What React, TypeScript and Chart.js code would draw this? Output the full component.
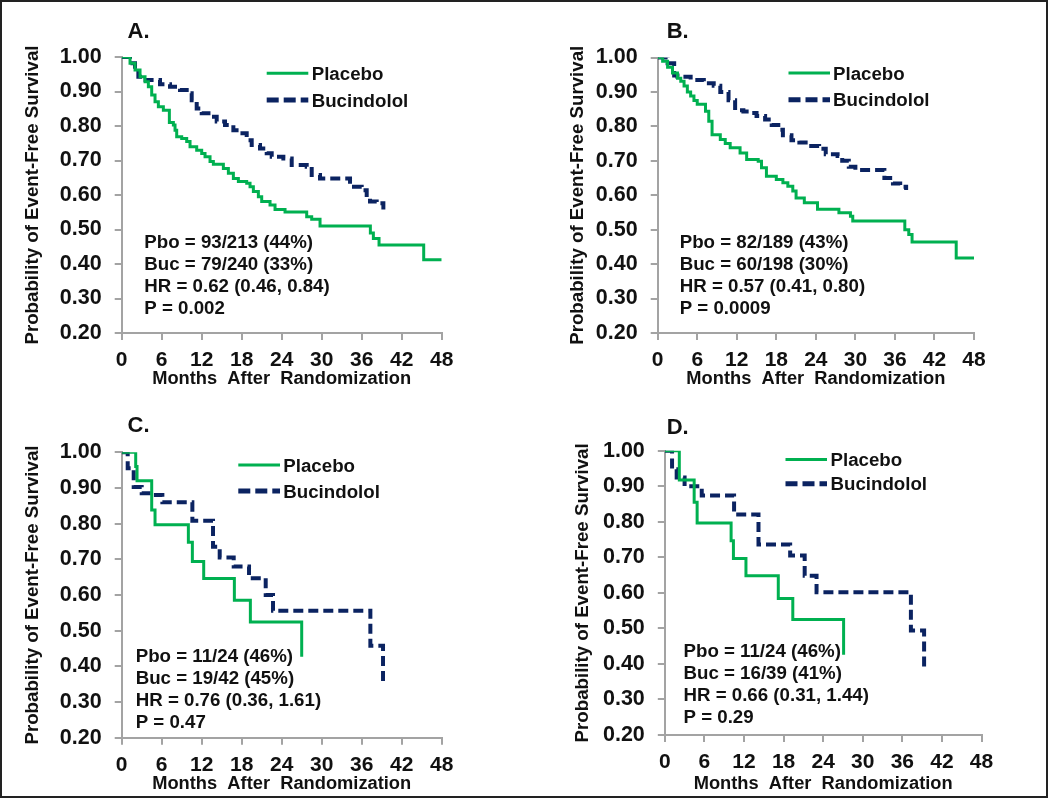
import React, { useEffect, useRef } from 'react';
import { Chart, registerables } from 'chart.js';

Chart.register(...registerables);

const FONT = '"Liberation Sans", Arial, Helvetica, sans-serif';
const GREEN = '#00B050';
const NAVY = '#0B2361';
const AXIS = '#a3a3a3';
const TEXT = '#111111';

// Tick values
const X_TICKS = [0, 6, 12, 18, 24, 30, 36, 42, 48];
const Y_TICKS = [0.2, 0.3, 0.4, 0.5, 0.6, 0.7, 0.8, 0.9, 1.0];
const SERIES_NAMES = ['Placebo', 'Bucindolol'];
const X_TITLE = 'Months  After  Randomization';
const Y_TITLE = 'Probability of Event-Free Survival';

// Panel A
const monthsA_pbo = [0, 1.25, 2.0, 2.75, 3.5, 4.0, 4.5, 5.0, 5.5, 6.25, 7.15, 7.75, 8.0, 8.25, 9.0, 9.75, 10.25, 11.25, 12.0, 12.5, 13.25, 13.75, 15.25, 16.0, 16.75, 17.5, 18.75, 19.25, 19.75, 20.5, 21.0, 22.25, 23.0, 24.5, 27.75, 28.5, 29.75, 37.3, 37.75, 38.6, 45.3, 48];
const survA_pbo = [1.0, 0.982, 0.962, 0.943, 0.928, 0.914, 0.89, 0.87, 0.856, 0.846, 0.81, 0.803, 0.788, 0.769, 0.764, 0.755, 0.74, 0.73, 0.72, 0.711, 0.697, 0.689, 0.677, 0.663, 0.648, 0.639, 0.634, 0.624, 0.61, 0.595, 0.581, 0.571, 0.558, 0.551, 0.537, 0.53, 0.51, 0.49, 0.474, 0.455, 0.412, 0.412];
const monthsA_buc = [0, 1.25, 2.0, 2.5, 3.25, 5.75, 7.25, 8.75, 9.75, 10.5, 11.25, 12.0, 13.5, 14.25, 15.5, 16.75, 17.75, 18.75, 19.5, 20.75, 21.75, 22.5, 24.25, 25.5, 27.75, 28.5, 29.75, 34.25, 36.0, 36.75, 37.25, 38.25, 39.25];
const survA_buc = [1.0, 0.982, 0.962, 0.943, 0.933, 0.921, 0.914, 0.904, 0.895, 0.875, 0.851, 0.837, 0.827, 0.813, 0.803, 0.788, 0.779, 0.759, 0.745, 0.735, 0.721, 0.711, 0.706, 0.687, 0.682, 0.658, 0.648, 0.624, 0.614, 0.6, 0.581, 0.576, 0.558];
const statsA = ['Pbo = 93/213 (44%)', 'Buc = 79/240 (33%)', 'HR = 0.62 (0.46, 0.84)', 'P = 0.002'];

// Panel B
const monthsB_pbo = [0, 0.75, 1.5, 2.25, 3.0, 3.5, 4.0, 4.5, 5.0, 5.5, 6.0, 7.25, 7.75, 8.25, 9.5, 10.25, 11.0, 12.5, 13.5, 15.25, 15.75, 16.5, 18.0, 19.0, 19.75, 20.5, 21.0, 22.25, 24.25, 27.5, 29.25, 29.6, 37.5, 38.1, 38.6, 45.3, 48];
const survB_pbo = [1.0, 0.989, 0.972, 0.955, 0.94, 0.931, 0.917, 0.9, 0.888, 0.875, 0.864, 0.844, 0.815, 0.776, 0.762, 0.75, 0.738, 0.723, 0.704, 0.699, 0.68, 0.655, 0.646, 0.636, 0.626, 0.612, 0.592, 0.578, 0.559, 0.549, 0.539, 0.525, 0.5, 0.486, 0.464, 0.418, 0.418];
const monthsB_buc = [0, 1.5, 2.5, 3.0, 5.0, 7.0, 8.5, 9.5, 10.75, 11.75, 13.0, 14.0, 15.0, 16.3, 17.3, 18.3, 19.0, 20.3, 21.5, 23.3, 24.5, 25.5, 27.3, 28.0, 29.0, 30.0, 34.4, 35.7, 36.8, 37.7];
const survB_buc = [1.0, 0.983, 0.948, 0.944, 0.935, 0.925, 0.918, 0.9, 0.876, 0.847, 0.843, 0.839, 0.83, 0.82, 0.804, 0.79, 0.774, 0.76, 0.753, 0.743, 0.735, 0.719, 0.714, 0.7, 0.683, 0.673, 0.65, 0.634, 0.625, 0.615];
const statsB = ['Pbo = 82/189 (43%)', 'Buc = 60/198 (30%)', 'HR = 0.57 (0.41, 0.80)', 'P = 0.0009'];

// Panel C
const monthsC_pbo = [0, 2.1, 2.3, 4.5, 5.0, 10.0, 10.6, 12.3, 16.9, 19.3, 27.0];
const survC_pbo = [1.0, 0.96, 0.92, 0.838, 0.797, 0.748, 0.694, 0.646, 0.585, 0.524, 0.427];
const monthsC_buc = [0, 0.9, 1.8, 3.0, 4.7, 6.1, 10.6, 13.7, 14.7, 16.8, 19.1, 21.6, 22.7, 37.3, 39.2];
const survC_buc = [1.0, 0.955, 0.903, 0.885, 0.88, 0.86, 0.808, 0.735, 0.705, 0.68, 0.647, 0.6, 0.556, 0.458, 0.352];
const statsC = ['Pbo = 11/24 (46%)', 'Buc = 19/42 (45%)', 'HR = 0.76 (0.36, 1.61)', 'P = 0.47'];

// Panel D
const monthsD_pbo = [0, 2.2, 4.45, 4.9, 10.05, 10.4, 12.3, 17.2, 19.4, 27.1];
const survD_pbo = [1.0, 0.918, 0.855, 0.797, 0.747, 0.697, 0.648, 0.584, 0.525, 0.426];
const monthsD_buc = [0, 1.1, 1.8, 3.0, 5.6, 10.5, 14.2, 19.0, 21.2, 23.0, 37.3, 39.3];
const survD_buc = [1.0, 0.948, 0.925, 0.9, 0.874, 0.821, 0.736, 0.705, 0.648, 0.602, 0.494, 0.383];
const statsD = ['Pbo = 11/24 (46%)', 'Buc = 16/39 (41%)', 'HR = 0.66 (0.31, 1.44)', 'P = 0.29'];

const toPts = (xs: number[], ys: number[]) => xs.map((x, i) => ({ x, y: ys[i] }));

type PanelCfg = {
  letter: string;
  pbo: { m: number[]; s: number[] };
  buc: { m: number[]; s: number[] };
  stats: string[];
  left: number; top: number; w: number; h: number;
  plotLeft: number; plotRight: number; plotTop: number; plotBottom: number;
  xTitlePad: number; yTitlePad: number;
  letterX: number; letterY: number;
  legX1: number; legX2: number; legTextX: number; legY1: number; legY2: number;
  statX: number; statY: number; statStep: number;
};

const PANELS: PanelCfg[] = [
  {
    letter: 'A.', pbo: { m: monthsA_pbo, s: survA_pbo }, buc: { m: monthsA_buc, s: survA_buc }, stats: statsA,
    left: 0, top: 0, w: 525, h: 400,
    plotLeft: 121.7, plotRight: 441.7, plotTop: 57, plotBottom: 333,
    xTitlePad: 10.5, yTitlePad: 22,
    letterX: 127.5, letterY: 38,
    legX1: 266.7, legX2: 308.3, legTextX: 311.7, legY1: 73.3, legY2: 100,
    statX: 144.3, statY: 241.7, statStep: 21.7,
  },
  {
    letter: 'B.', pbo: { m: monthsB_pbo, s: survB_pbo }, buc: { m: monthsB_buc, s: survB_buc }, stats: statsB,
    left: 525, top: 0, w: 525, h: 400,
    plotLeft: 132.7, plotRight: 449, plotTop: 57.5, plotBottom: 333,
    xTitlePad: 10.5, yTitlePad: 41.2,
    letterX: 141.7, letterY: 38.3,
    legX1: 263.5, legX2: 305, legTextX: 308, legY1: 73, legY2: 99.7,
    statX: 154.7, statY: 241.7, statStep: 21.7,
  },
  {
    letter: 'C.', pbo: { m: monthsC_pbo, s: survC_pbo }, buc: { m: monthsC_buc, s: survC_buc }, stats: statsC,
    left: 0, top: 400, w: 525, h: 399,
    plotLeft: 121.7, plotRight: 441.7, plotTop: 52.3, plotBottom: 337.7,
    xTitlePad: 4.2, yTitlePad: 22,
    letterX: 127.5, letterY: 32,
    legX1: 238.3, legX2: 280, legTextX: 283.3, legY1: 65, legY2: 91,
    statX: 135.7, statY: 255, statStep: 22,
  },
  {
    letter: 'D.', pbo: { m: monthsD_pbo, s: survD_pbo }, buc: { m: monthsD_buc, s: survD_buc }, stats: statsD,
    left: 525, top: 400, w: 525, h: 399,
    plotLeft: 139.8, plotRight: 456.5, plotTop: 50.8, plotBottom: 335,
    xTitlePad: 4.2, yTitlePad: 47,
    letterX: 141.7, letterY: 33.5,
    legX1: 260.5, legX2: 302, legTextX: 305.5, legY1: 59.5, legY2: 83.7,
    statX: 158.5, statY: 250, statStep: 22,
  },
];

function makeTextPlugin(cfg: PanelCfg) {
  return {
    id: 'kmText' + cfg.letter,
    afterDraw(chart: any) {
      const ctx = chart.ctx as CanvasRenderingContext2D;
      ctx.save();
      ctx.fillStyle = TEXT;
      ctx.textAlign = 'left';
      ctx.textBaseline = 'alphabetic';
      ctx.font = `bold 22px ${FONT}`;
      ctx.fillText(cfg.letter, cfg.letterX, cfg.letterY);

      const capHalf = 6.7;
      ctx.font = `bold 18.7px ${FONT}`;
      // legend: placebo
      ctx.strokeStyle = GREEN;
      ctx.lineWidth = 3;
      ctx.setLineDash([]);
      ctx.beginPath();
      ctx.moveTo(cfg.legX1, cfg.legY1);
      ctx.lineTo(cfg.legX2, cfg.legY1);
      ctx.stroke();
      ctx.fillText(chart.data.datasets[0].label, cfg.legTextX, cfg.legY1 + capHalf);
      // legend: bucindolol
      ctx.strokeStyle = NAVY;
      ctx.lineWidth = 5;
      ctx.setLineDash([12, 5]);
      ctx.beginPath();
      ctx.moveTo(cfg.legX1, cfg.legY2);
      ctx.lineTo(cfg.legX2, cfg.legY2);
      ctx.stroke();
      ctx.setLineDash([]);
      ctx.fillText(chart.data.datasets[1].label, cfg.legTextX, cfg.legY2 + capHalf);

      cfg.stats.forEach((t, i) => {
        ctx.fillText(t, cfg.statX, cfg.statY + i * cfg.statStep + capHalf);
      });
      ctx.restore();
    },
  };
}

function KMPanel({ cfg }: { cfg: PanelCfg }) {
  const ref = useRef<HTMLCanvasElement>(null);
  useEffect(() => {
    if (!ref.current) return;
    const chart = new Chart(ref.current, {
      type: 'line',
      data: {
        datasets: [
          {
            label: SERIES_NAMES[0],
            data: toPts(cfg.pbo.m, cfg.pbo.s),
            borderColor: GREEN,
            backgroundColor: GREEN,
            borderWidth: 3,
            stepped: true,
            pointRadius: 0,
            fill: false,
          },
          {
            label: SERIES_NAMES[1],
            data: toPts(cfg.buc.m, cfg.buc.s),
            borderColor: NAVY,
            backgroundColor: NAVY,
            borderWidth: 4,
            borderDash: [10, 5],
            stepped: true,
            pointRadius: 0,
            fill: false,
          },
        ],
      },
      options: {
        responsive: false,
        animation: false,
        devicePixelRatio: 1,
        layout: {
          padding: { left: 0, top: cfg.plotTop, right: cfg.w - cfg.plotRight, bottom: 0 },
        },
        plugins: { legend: { display: false }, tooltip: { enabled: false } },
        scales: {
          x: {
            type: 'linear',
            min: 0,
            max: 48,
            afterFit: (s: any) => { s.height = cfg.h - cfg.plotBottom; },
            afterBuildTicks: (s: any) => { s.ticks = X_TICKS.map((v) => ({ value: v })); },
            grid: { drawOnChartArea: false, drawTicks: true, tickLength: 7, color: AXIS, lineWidth: 2 },
            border: { color: AXIS, width: 2 },
            ticks: {
              font: { family: FONT, size: 21, weight: 'bold', lineHeight: 1.2 },
              color: TEXT, padding: 8, maxRotation: 0, autoSkip: false,
              callback: (v: any) => String(v),
            },
            title: {
              display: true, text: X_TITLE, color: TEXT,
              font: { family: FONT, size: 18.3, weight: 'bold', lineHeight: 1.2 },
              padding: { top: 0, bottom: cfg.xTitlePad },
            },
          },
          y: {
            type: 'linear',
            min: 0.2,
            max: 1.0,
            afterFit: (s: any) => { s.width = cfg.plotLeft; },
            afterBuildTicks: (s: any) => { s.ticks = Y_TICKS.map((v) => ({ value: v })); },
            grid: { drawOnChartArea: false, drawTicks: true, tickLength: 7, color: AXIS, lineWidth: 2 },
            border: { color: AXIS, width: 2 },
            ticks: {
              font: { family: FONT, size: 21.5, weight: 'bold', lineHeight: 1.2 },
              color: TEXT, padding: 13, autoSkip: false,
              callback: (v: any) => Number(v).toFixed(2),
            },
            title: {
              display: true, text: Y_TITLE, color: TEXT,
              font: { family: FONT, size: 18.7, weight: 'bold', lineHeight: 1.2 },
              padding: { top: cfg.yTitlePad, bottom: 0 },
            },
          },
        },
      } as any,
      plugins: [makeTextPlugin(cfg)],
    });
    return () => chart.destroy();
  }, [cfg]);
  return (
    <canvas
      ref={ref}
      width={cfg.w}
      height={cfg.h}
      style={{ position: 'absolute', left: cfg.left, top: cfg.top, width: cfg.w, height: cfg.h }}
    />
  );
}

export default function App() {
  return (
    <div style={{ position: 'fixed', left: 0, top: 0, width: 1050, height: 799, background: '#ffffff', overflow: 'hidden' }}>
      {PANELS.map((p) => (
        <KMPanel key={p.letter} cfg={p} />
      ))}
      <div
        style={{
          position: 'absolute', left: 0, top: 0, width: 1048, height: 798,
          border: '2px solid #222', boxSizing: 'border-box', pointerEvents: 'none',
        }}
      />
    </div>
  );
}
